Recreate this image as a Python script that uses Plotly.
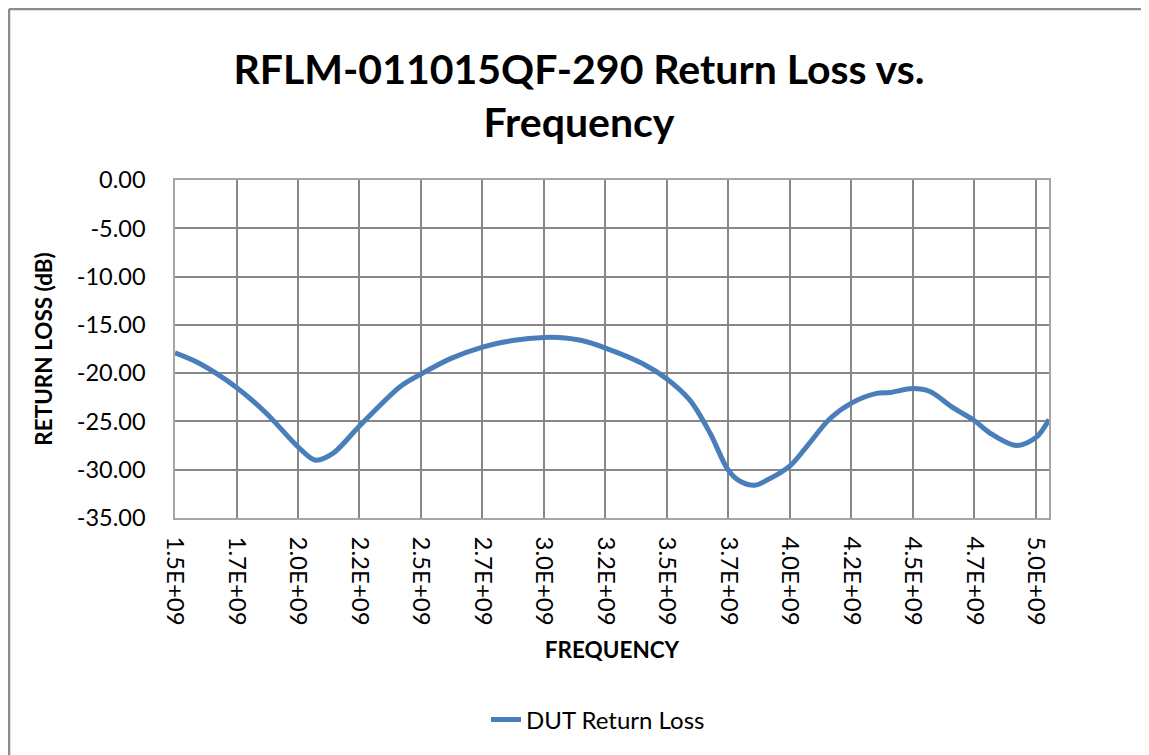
import plotly.graph_objects as go

# Frequency (GHz) and return loss (dB)
freq_ghz = [1.500, 1.600, 1.751, 1.873, 1.999, 2.069, 2.142, 2.249, 2.415,
            2.500, 2.620, 2.750, 2.880, 3.000, 3.060, 3.150, 3.250, 3.400,
            3.500, 3.593, 3.675, 3.748, 3.797, 3.858, 3.905, 4.000, 4.068, 4.163,
            4.250, 4.352, 4.407, 4.500, 4.569, 4.664, 4.749, 4.813, 4.921, 5.003, 5.053]
return_loss_db = [-17.9, -19.0, -21.5, -24.2, -27.6, -29.0, -28.3, -25.5, -21.4,
                  -20.1, -18.5, -17.3, -16.6, -16.3, -16.3, -16.6, -17.4, -19.0,
                  -20.6, -22.8, -26.2, -30.0, -31.2, -31.6, -31.1, -29.6, -27.6, -24.7,
                  -23.1, -22.1, -22.0, -21.6, -21.9, -23.6, -24.9, -26.2, -27.5, -26.6, -24.8]
freq_hz = [f * 1e9 for f in freq_ghz]

x_tick_vals = [1.5e9 + 0.25e9 * k for k in range(15)]
x_tick_text = ["1.5E+09", "1.7E+09", "2.0E+09", "2.2E+09", "2.5E+09", "2.7E+09", "3.0E+09",
               "3.2E+09", "3.5E+09", "3.7E+09", "4.0E+09", "4.2E+09", "4.5E+09", "4.7E+09",
               "5.0E+09"]
y_tick_vals = [0, -5, -10, -15, -20, -25, -30, -35]
y_tick_text = ["0.00", "-5.00", "-10.00", "-15.00", "-20.00", "-25.00", "-30.00", "-35.00"]

OFF = 8  # page body margin
W, H = 1149 - OFF, 755 - OFF
L, R, T, B = 175 - OFF, 1049 - OFF, 180 - OFF, 518 - OFF

def px(xp):  # figure pixel -> paper
    return (xp - L) / (R - L)

def py(yp):
    return (B - yp) / (B - T)

FONT = "Lato"

fig = go.Figure()
fig.add_trace(go.Scatter(
    x=freq_hz, y=return_loss_db, mode="lines", name="DUT Return Loss",
    line=dict(color="#4a7ebb", width=5, shape="spline", smoothing=0.9),
))

fig.update_layout(
    width=W, height=H,
    margin=dict(l=L, r=W - R, t=T, b=H - B),
    paper_bgcolor="white", plot_bgcolor="white",
    font=dict(family=FONT, color="black"),
    title=dict(text="RFLM-011015QF-290 Return Loss vs.<br>Frequency",
               font=dict(family=FONT, size=41, color="black", weight="bold"),
               x=(585 - OFF - 6) / W, xanchor="center", xref="container",
               y=1 - 76 / H, yanchor="middle", yref="container"),
    xaxis=dict(range=[1.5e9, 5.053e9], tickvals=x_tick_vals, ticktext=x_tick_text,
               tickangle=90, tickfont=dict(size=24, family=FONT),
               showgrid=True, gridcolor="#878787", gridwidth=1.5,
               showline=True, linecolor="#a6a6a6", linewidth=1.5, mirror=True,
               ticks="", ticklabelstandoff=12, zeroline=False,
               title=dict(text="FREQUENCY", font=dict(size=22.5, family=FONT, weight="bold"),
                          standoff=18)),
    yaxis=dict(range=[-35, 0], tickvals=y_tick_vals, ticktext=y_tick_text,
               tickfont=dict(size=23.5, family=FONT),
               showgrid=True, gridcolor="#878787", gridwidth=1.5,
               showline=True, linecolor="#a6a6a6", linewidth=1.5, mirror=True,
               ticks="", ticklabelstandoff=23, zeroline=False,
               title=dict(text="RETURN LOSS (dB)", font=dict(size=22.5, family=FONT, weight="bold"),
                          standoff=18)),
    showlegend=True,
    legend=dict(orientation="h", x=px(598 - OFF), xanchor="center", y=py(720 - OFF), yanchor="middle",
                font=dict(size=24, family=FONT), bgcolor="rgba(0,0,0,0)"),
    shapes=[
        dict(type="line", xref="paper", yref="paper", x0=px(1), x1=px(W), y0=py(1), y1=py(1),
             line=dict(color="#8c8c8c", width=2.5)),
        dict(type="line", xref="paper", yref="paper", x0=px(1), x1=px(1), y0=py(1), y1=py(H),
             line=dict(color="#8c8c8c", width=2.5)),
    ],
)

fig.write_html("out.html")
